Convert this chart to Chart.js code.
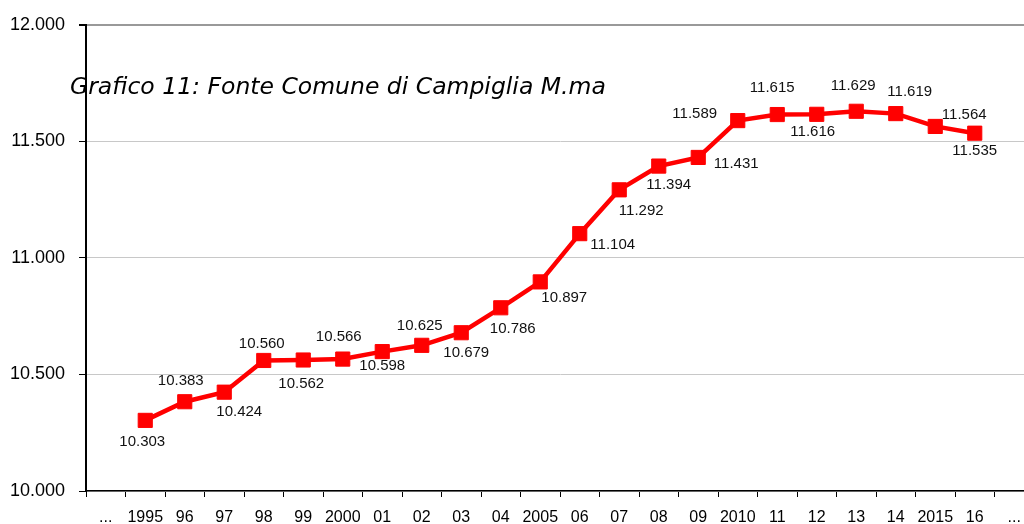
<!DOCTYPE html>
<html>
<head>
<meta charset="utf-8">
<script src="https://cdn.jsdelivr.net/npm/chart.js@4/dist/chart.umd.min.js"></script>
<style>
  html, body { margin: 0; padding: 0; background: #fff; overflow: hidden; }
  #wrap { width: 1045px; height: 524px; position: relative; }
</style>
</head>
<body>
<div id="wrap"><canvas id="chart"></canvas></div>
<script>
// Categories (first and last are placeholders with no value)
const years = ['...', '1995', '96', '97', '98', '99', '2000', '01', '02', '03', '04',
  '2005', '06', '07', '08', '09', '2010', '11', '12', '13', '14', '2015', '16', '...'];

// Residents per year
const residents = [null, 10303, 10383, 10424, 10560, 10562, 10566, 10598, 10625, 10679, 10786,
  10897, 11104, 11292, 11394, 11431, 11589, 11615, 11616, 11629, 11619, 11564, 11535, null];

// Y axis range
const yMin = 10000, yMax = 12000, yStep = 500;

// Where each value label sits relative to its point [dx, dy]
const labelOffsets = [null, [-3, 21], [-4, -21], [15, 20], [-2, -17], [-2, 24], [-4, -22],
  [0, 14], [-2, -19], [5, 20], [12, 21], [24, 16], [33, 11], [22, 21], [10, 19], [38, 6],
  [-43, -7], [-5, -27], [-4, 18], [-3, -25], [14, -22], [29, -12], [0, 18], null];

const titleText = 'Grafico 11: Fonte Comune di Campiglia M.ma';

// Format numbers with a dot as thousands separator
function fmt(v) {
  return String(v).replace(/\B(?=(\d{3})+(?!\d))/g, '.');
}

// Draws the value labels and the overlaid title
const labelsPlugin = {
  id: 'valueLabels',
  afterDatasetsDraw(chart) {
    const ctx = chart.ctx;
    const meta = chart.getDatasetMeta(0);
    ctx.save();
    ctx.font = '15px "Liberation Sans", Arial, sans-serif';
    ctx.fillStyle = '#111';
    ctx.textAlign = 'center';
    ctx.textBaseline = 'middle';
    meta.data.forEach((pt, i) => {
      const v = residents[i];
      if (v == null) return;
      const off = labelOffsets[i];
      ctx.fillText(fmt(v), pt.x + off[0], pt.y + off[1]);
    });

    ctx.font = 'italic 23.5px "DejaVu Sans", Verdana, sans-serif';
    ctx.textAlign = 'left';
    ctx.fillStyle = '#000';
    ctx.fillText(titleText, 70, 88);
    ctx.restore();
  }
};

const ctx = document.getElementById('chart').getContext('2d');
new Chart(ctx, {
  type: 'line',
  data: {
    labels: years,
    datasets: [{
      data: residents,
      borderColor: '#ff0000',
      backgroundColor: '#ff0000',
      borderWidth: 4.5,
      pointStyle: 'rect',
      pointRadius: 10,
      pointBorderWidth: 1,
      pointBorderColor: '#ff0000',
      pointBackgroundColor: '#ff0000',
      tension: 0,
      spanGaps: false
    }]
  },
  options: {
    responsive: true,
    maintainAspectRatio: false,
    animation: false,
    layout: { padding: { top: 18, right: 5, left: 0, bottom: 0 } },
    plugins: {
      legend: { display: false },
      title: { display: false },
      tooltip: { enabled: false }
    },
    scales: {
      x: {
        offset: true,
        grid: {
          offset: true,
          drawOnChartArea: false,
          drawTicks: true,
          tickLength: 6,
          color: '#000',
          tickColor: '#000'
        },
        border: { color: '#000', width: 1.5 },
        ticks: {
          color: '#000',
          padding: 11,
          maxRotation: 0,
          autoSkip: false,
          font: { family: '"Liberation Sans", Arial, sans-serif', size: 16 }
        },
        afterFit(scale) { scale.height = 33; }
      },
      y: {
        min: yMin,
        max: yMax,
        grid: {
          color: (c) => c.tick && c.tick.value === yMax ? '#999' : '#c8c8c8',
          lineWidth: (c) => c.tick && c.tick.value === yMax ? 2 : 1,
          tickLength: 7,
          tickColor: '#000'
        },
        border: { color: '#000', width: 2 },
        ticks: {
          stepSize: yStep,
          color: '#000',
          padding: 14,
          font: { family: '"Liberation Sans", Arial, sans-serif', size: 18 },
          callback: (v) => fmt(v)
        },
        afterFit(scale) { scale.width = 86; }
      }
    }
  },
  plugins: [labelsPlugin]
});
</script>
</body>
</html>
